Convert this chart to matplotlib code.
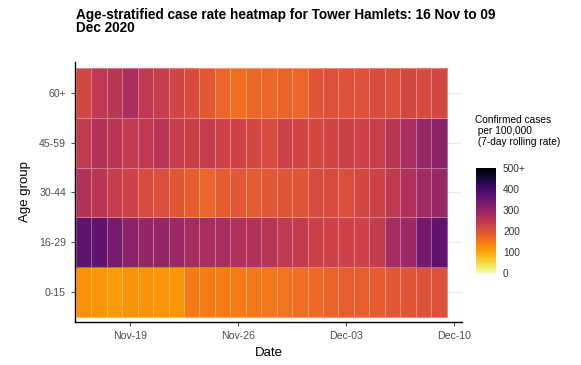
import numpy as np
import matplotlib
matplotlib.use("Agg")
import matplotlib.pyplot as plt
import matplotlib.dates as mdates
import datetime as dt

plt.rcParams['font.family'] = ['Liberation Sans', 'DejaVu Sans']

# data: 7-day rolling case rate per 100k, 16 Nov - 09 Dec 2020
start = dt.date(2020, 11, 16)
dates = [start + dt.timedelta(days=i) for i in range(24)]
age_groups = ["0-15", "16-29", "30-44", "45-59", "60+"]

rate_0_15 = [120, 115, 110, 118, 118, 115, 115, 145, 145, 145, 145, 150,
             150, 155, 160, 165, 175, 180, 180, 185, 190, 195, 200, 200]
rate_16_29 = [365, 362, 335, 310, 300, 300, 290, 280, 275, 275, 265, 260,
              255, 245, 240, 230, 225, 225, 225, 240, 280, 290, 340, 362]
rate_30_44 = [260, 250, 235, 225, 210, 205, 195, 180, 170, 185, 190, 185,
              190, 195, 195, 210, 210, 205, 215, 225, 245, 265, 285, 295]
rate_45_59 = [240, 260, 250, 240, 245, 250, 235, 230, 235, 225, 225, 215,
              210, 225, 220, 215, 220, 230, 225, 230, 250, 275, 300, 310]
rate_60 = [215, 245, 250, 270, 245, 235, 220, 210, 190, 170, 160, 170,
           170, 175, 170, 195, 200, 200, 200, 210, 205, 215, 210, 215]

Z = np.array([rate_0_15, rate_16_29, rate_30_44, rate_45_59, rate_60])

fig = plt.figure(figsize=(5.81, 3.65), dpi=100)
ax = fig.add_axes([75/581, 1 - 322/365, 387/581, 260/365])

dnum = mdates.date2num(dates)
xedges = np.append(dnum - 0.5, dnum[-1] + 0.5)
yedges = np.arange(len(age_groups) + 1) + 0.5

# faint grid
for y in range(1, 6):
    ax.axhline(y, color='#ebebeb', lw=0.8, zorder=0)

mesh = ax.pcolormesh(xedges, yedges, Z, cmap='inferno_r', vmin=0, vmax=500,
                     edgecolor=(1, 1, 1, 0.35), linewidth=0.6, zorder=1)

ax.set_xlim(dnum[0] - 0.56, mdates.date2num(dt.date(2020, 12, 10)) + 0.5)
ax.set_ylim(0.4, 5.62)
ax.set_yticks(range(1, 6))
ax.set_yticklabels(age_groups)
ticks = [dt.date(2020, 11, 19), dt.date(2020, 11, 26), dt.date(2020, 12, 3), dt.date(2020, 12, 10)]
ax.set_xticks(mdates.date2num(ticks))
ax.set_xticklabels([t.strftime("%b-%d") for t in ticks])
ax.tick_params(labelsize=7.6, colors='#4d4d4d', length=3, width=0.8)
for s in ['top', 'right']:
    ax.spines[s].set_visible(False)
for s in ['left', 'bottom']:
    ax.spines[s].set_linewidth(1.0)
    ax.spines[s].set_color('black')

ax.set_xlabel("Date", fontsize=9.5, labelpad=4)
ax.set_ylabel("Age group", fontsize=9.5, labelpad=6)

fig.text(76/581, 1 - 8/365, "Age-stratified case rate heatmap for Tower Hamlets: 16 Nov to 09\nDec 2020",
         fontsize=9.8, fontweight='bold', va='top', ha='left', linespacing=0.95)

cax = fig.add_axes([476/581, 1 - 273/365, 20/581, 105/365])
cb = fig.colorbar(mesh, cax=cax)
cb.outline.set_visible(False)
cb.set_ticks([0, 100, 200, 300, 400, 500])
cb.set_ticklabels(["0", "100", "200", "300", "400", "500+"])
cax.tick_params(labelsize=7.3, length=0, pad=5, colors='#333333')
fig.text(475/581, 1 - 115/365, "Confirmed cases\n per 100,000\n (7-day rolling rate)",
         fontsize=7.3, va='top', ha='left', linespacing=1.1)

fig.savefig("out.png", dpi=100)
